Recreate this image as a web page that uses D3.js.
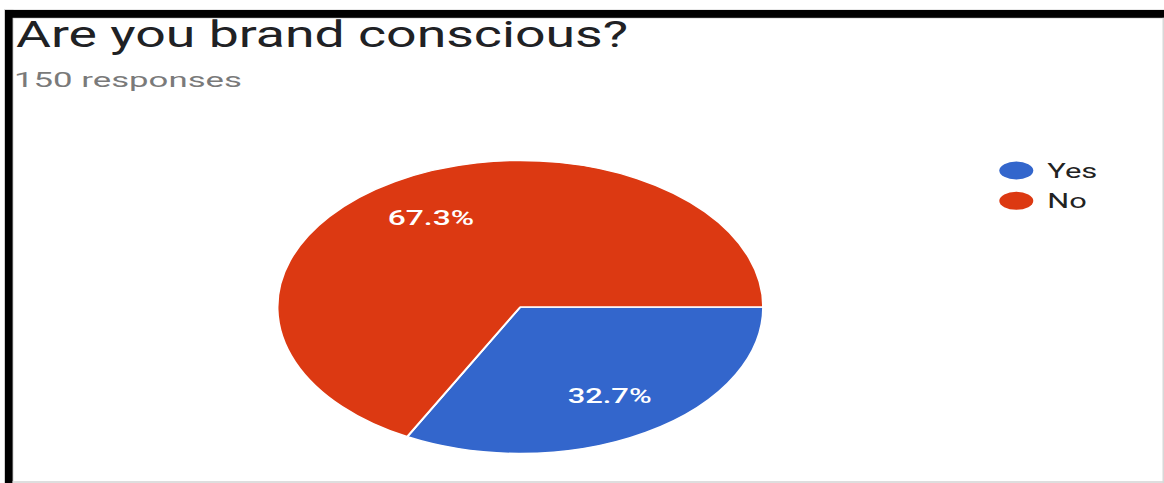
<!DOCTYPE html>
<html>
<head>
<meta charset="utf-8">
<script src="https://cdn.jsdelivr.net/npm/d3@7/dist/d3.min.js"></script>
<style>
  html, body { margin: 0; padding: 0; background: #ffffff; }
  svg { display: block; font-family: Roboto, "Liberation Sans", Arial, sans-serif; }
</style>
</head>
<body>
<svg id="chart" width="1164" height="483"></svg>
<script>
// Survey answers
const categories = ["Yes", "No"];
const percents = [32.7, 67.3];
const sliceColors = ["#3366cc", "#dc3912"];
const titleText = "Are you brand conscious?";
const subtitleText = "150 responses";

const W = 1164, H = 483;
const svg = d3.select("#chart");

// Frame: black bars on top and left, thin grey edges
svg.append("rect").attr("x", 0).attr("y", 0).attr("width", W).attr("height", H).attr("fill", "#ffffff");
svg.append("rect").attr("x", 4).attr("y", 9.5).attr("width", W - 4).attr("height", 9).attr("fill", "#d0d0d0");
svg.append("rect").attr("x", 4).attr("y", 9.5).attr("width", 9.5).attr("height", H).attr("fill", "#d0d0d0");
svg.append("rect").attr("x", 5).attr("y", 10).attr("width", W - 5).attr("height", 7.8).attr("fill", "#000000");
svg.append("rect").attr("x", 5).attr("y", 10).attr("width", 7.6).attr("height", H).attr("fill", "#000000");
svg.append("rect").attr("x", 12.6).attr("y", 481).attr("width", W).attr("height", 2).attr("fill", "#dedede");
svg.append("rect").attr("x", W - 1.5).attr("y", 17.8).attr("width", 1.5).attr("height", H).attr("fill", "#d8d8d8");

// Title and response count (the layout is stretched horizontally)
svg.append("text")
  .attr("x", 16).attr("y", 46.5)
  .attr("font-size", 36)
  .attr("fill", "#202124")
  .attr("textLength", 612).attr("lengthAdjust", "spacingAndGlyphs")
  .text(titleText);

svg.append("text")
  .attr("x", 14).attr("y", 86.7)
  .attr("font-size", 21)
  .attr("fill", "#7a7a7a")
  .attr("textLength", 228).attr("lengthAdjust", "spacingAndGlyphs")
  .text(subtitleText);

// Pie, drawn as a circle and stretched into an ellipse
const cx = 520.3, cy = 307, r = 146.5;
const sx = 243 / r;

const pie = d3.pie().sort(null).value(d => d)
  .startAngle(Math.PI / 2).endAngle(Math.PI / 2 + 2 * Math.PI);
const arcs = pie(percents);
const arc = d3.arc().innerRadius(0).outerRadius(r);
const labelArc = d3.arc().innerRadius(r * 0.711).outerRadius(r * 0.711);

const pieG = svg.append("g").attr("transform", `translate(${cx},${cy}) scale(${sx},1)`);
pieG.selectAll("path.slice")
  .data(arcs)
  .join("path")
  .attr("class", "slice")
  .attr("d", arc)
  .attr("fill", (d, i) => sliceColors[i])
  .attr("stroke", "#ffffff")
  .attr("stroke-width", 1.4)
  .attr("stroke-linejoin", "round");

// Percentage labels inside slices
const labelWidth = { "Yes": 84, "No": 86.5 };
svg.selectAll("text.pct")
  .data(arcs)
  .join("text")
  .attr("class", "pct")
  .each(function (d, i) {
    const [lx, ly] = labelArc.centroid(d);
    const w = labelWidth[categories[i]];
    d3.select(this)
      .attr("x", cx + lx * sx - w / 2)
      .attr("y", cy + ly + 7)
      .attr("textLength", w)
      .attr("lengthAdjust", "spacingAndGlyphs");
  })
  .attr("font-size", 19.5)
  .attr("font-weight", 500)
  .attr("fill", "#ffffff")
  .text(d => d.data.toFixed(1) + "%");

// Legend
const legendY = d3.scalePoint().domain(categories).range([170.5, 200.8]);
const legendWidth = { "Yes": 50, "No": 39.5 };
const legend = svg.selectAll("g.legend")
  .data(categories)
  .join("g")
  .attr("class", "legend")
  .attr("transform", d => `translate(0,${legendY(d)})`);
legend.append("ellipse")
  .attr("cx", 1016.3).attr("cy", 0)
  .attr("rx", 17).attr("ry", 9)
  .attr("fill", (d, i) => sliceColors[i]);
legend.append("text")
  .attr("x", 1047.3).attr("y", 7)
  .attr("font-size", 19.5)
  .attr("fill", "#222222")
  .attr("textLength", d => legendWidth[d]).attr("lengthAdjust", "spacingAndGlyphs")
  .text(d => d);
</script>
</body>
</html>
